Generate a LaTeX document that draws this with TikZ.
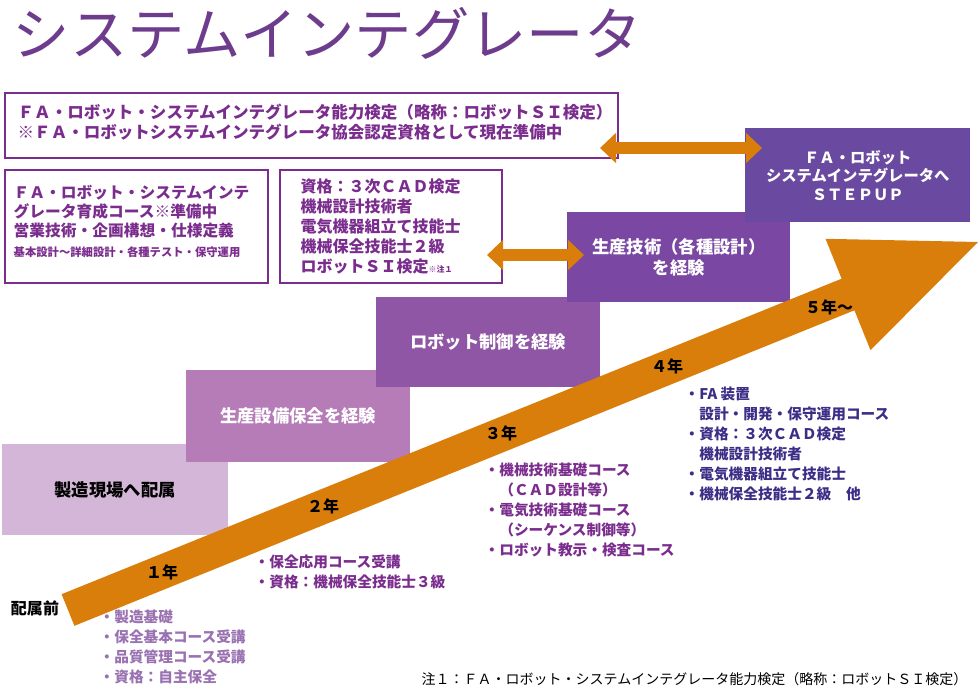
\documentclass[tikz,border=0pt]{standalone}
\usepackage{fontspec}
\setmainfont{Noto Sans CJK JP}
\usetikzlibrary{positioning,calc,arrows.meta}
\definecolor{ttl}{HTML}{6E3C8C}
\definecolor{pur}{HTML}{7B2D8E}
\definecolor{navy}{HTML}{3C2E86}
\definecolor{lila}{HTML}{9A72B2}
\definecolor{org}{HTML}{D97E0A}
\definecolor{stA}{HTML}{D4B7D8}
\definecolor{stB}{HTML}{B57CB8}
\definecolor{stC}{HTML}{8E56A4}
\definecolor{stD}{HTML}{7A47A2}
\definecolor{stE}{HTML}{6A4AA0}
\begin{document}
\begin{tikzpicture}
	[x=0.75pt,y=-0.75pt,
	 qbox/.style={draw=pur,line width=1.2pt,fill=white},
	 qtext/.style={anchor=north west,align=left,text=pur,font=\bfseries\fontsize{12.4}{15}\selectfont},
	 step/.style={fill=#1,anchor=north west,inner sep=0pt,font=\bfseries\fontsize{13}{16}\selectfont,text=white,align=center},
	 year/.style={font=\bfseries\fontsize{12}{14}\selectfont},
	 list/.style={anchor=north west,align=left,text=#1,font=\bfseries\fontsize{11}{15}\selectfont},
	 darrow/.style={org,line width=9pt,{Triangle[length=12pt,width=22pt]}-{Triangle[length=12pt,width=22pt]}},
	]
	\useasboundingbox (0,0) rectangle (980,689);
	\node[anchor=west,text=ttl,font=\fontsize{43}{45}\selectfont] (title) at (8,33) {システムインテグレータ};

	% qualification boxes
	\draw[qbox] (5,93) rectangle (618,158);
	\node[qtext] (qa) at (13,99) {ＦＡ・ロボット・システムインテグレータ能力検定（略称：ロボットＳＩ検定）\\※ＦＡ・ロボットシステムインテグレータ協会認定資格として現在準備中};
	\draw[qbox] (5,170) rectangle (268,283);
	\node[qtext,font=\bfseries\fontsize{11.8}{14.5}\selectfont] (qb) at (9,180) {ＦＡ・ロボット・システムインテ\\グレータ育成コース※準備中\\営業技術・企画構想・仕様定義\\{\fontsize{8.5}{11}\selectfont 基本設計～詳細設計・各種テスト・保守運用}};
	\draw[qbox] (280,170) rectangle (502,283);
	\node[qtext,font=\bfseries\fontsize{12}{15}\selectfont] (qc) at (296,174) {資格：３次ＣＡＤ検定\\機械設計技術者\\電気機器組立て技能士\\機械保全技能士２級\\ロボットＳＩ検定{\fontsize{6}{8}\selectfont ※注１}};

	% steps
	\node[step=stA,minimum width=226*0.75pt,minimum height=91*0.75pt,text=black] (s1) at (2,444) {製造現場へ配属};
	\node[step=stB,minimum width=224*0.75pt,minimum height=92*0.75pt] (s2) at (186,370) {生産設備保全を経験};
	\node[step=stC,minimum width=224*0.75pt,minimum height=90*0.75pt] (s3) at (376,297) {ロボット制御を経験};
	\node[step=stD,minimum width=223*0.75pt,minimum height=90*0.75pt] (s4) at (567,212) {生産技術（各種設計）\\を経験};
	\node[step=stE,minimum width=225*0.75pt,minimum height=94*0.75pt,font=\bfseries\fontsize{11.5}{14}\selectfont] (s5) at (745,128) {ＦＡ・ロボット\\システムインテグレータへ\\ＳＴＥＰＵＰ};

	% big arrow
	\fill[org] (74.4,625.8) -- (61.6,594.2) -- (841.6,278.7) -- (825.5,238.8) -- (978,242) -- (870.5,350.2) -- (854.4,310.3) -- cycle;

	\coordinate (da1) at (600,148); \coordinate (da2) at (762,148);
	\coordinate (db1) at (487,255); \coordinate (db2) at (584,255);
	\draw[darrow] (da1) -- (da2);
	\draw[darrow] (db1) -- (db2);

	% years
	\node[year] (y0) at (35,608) {配属前};
	\node[year] (y1) at (162,572) {１年};
	\node[year] (y2) at (323,506) {２年};
	\node[year] (y3) at (501,433) {３年};
	\node[year] (y4) at (667,366) {４年};
	\node[year] (y5) at (829,307) {５年～};

	% lists
	\node[list=lila] (l1) at (95,605) {・製造基礎\\・保全基本コース受講\\・品質管理コース受講\\・資格：自主保全};
	\node[list=pur] (l2) at (250,550) {・保全応用コース受講\\・資格：機械保全技能士３級};
	\node[list=pur] (l3) at (480,458) {・機械技術基礎コース\\　（ＣＡＤ設計等）\\・電気技術基礎コース\\　（シーケンス制御等）\\・ロボット教示・検査コース};
	\node[list=navy] (l4) at (680,382) {・FA 装置\\　設計・開発・保守運用コース\\・資格：３次ＣＡＤ検定\\　機械設計技術者\\・電気機器組立て技能士\\・機械保全技能士２級　他};

	\node[anchor=east,font=\fontsize{10.5}{12}\selectfont] (note) at (972,679) {注１：ＦＡ・ロボット・システムインテグレータ能力検定（略称：ロボットＳＩ検定）};
\end{tikzpicture}
\end{document}
